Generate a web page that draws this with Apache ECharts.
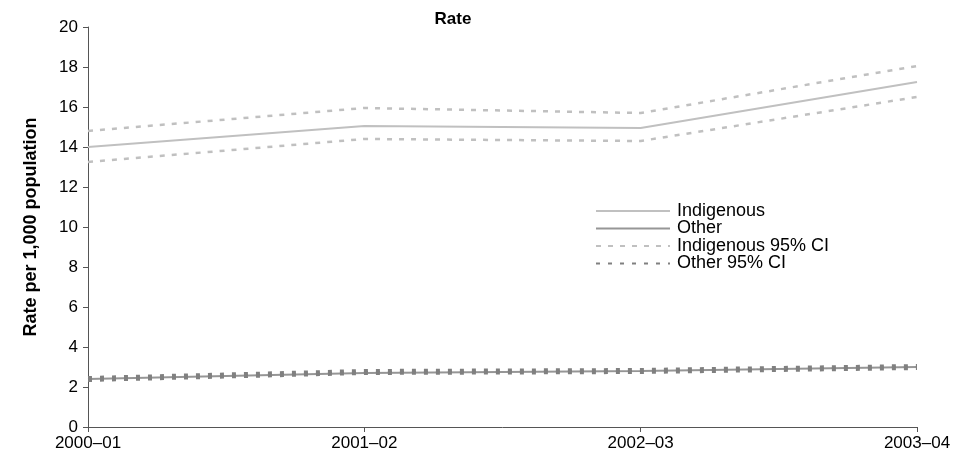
<!DOCTYPE html>
<html><head><meta charset="utf-8">
<script src="https://cdn.jsdelivr.net/npm/echarts@6/dist/echarts.min.js"></script>
<style>html,body{margin:0;padding:0;background:#fff}#c{width:968px;height:474px}</style>
</head><body><div id="c"></div>
<script>
const categories = ['2000–01', '2001–02', '2002–03', '2003–04'];
const indigenous = [14.0, 15.05, 14.95, 17.25];
const other = [2.4, 2.7, 2.8, 3.0];
const indigenousUpper = [14.8, 15.95, 15.7, 18.05];
const indigenousLower = [13.25, 14.4, 14.3, 16.5];
const otherUpper = [2.45, 2.8, 2.85, 3.05];
const otherLower = [2.35, 2.7, 2.75, 2.95];
const yTicks = [0, 2, 4, 6, 8, 10, 12, 14, 16, 18, 20];

const chart = echarts.init(document.getElementById('c'));
const font = 'Liberation Sans, Arial, sans-serif';
chart.setOption({
  animation: false,
  title: { text: 'Rate', left: 448, top: 6, textAlign: 'center',
    textStyle: { fontFamily: font, fontSize: 17, fontWeight: 'bold', color: '#000' } },
  grid: { left: 88, right: 51, top: 27, bottom: 47 },
  legend: {
    orient: 'vertical', left: 595, top: 202, padding: 0, itemWidth: 74, itemHeight: 12, itemGap: -0.5,
    itemStyle: { opacity: 0 },
    textStyle: { fontFamily: font, fontSize: 18, color: '#000', padding: [0, 0, 0, 2] },
    data: ['Indigenous', 'Other', 'Indigenous 95% CI', 'Other 95% CI']
  },
  xAxis: {
    type: 'category', data: categories, boundaryGap: false,
    axisLine: { lineStyle: { color: '#555', width: 1 } },
    axisTick: { show: true, alignWithLabel: true, length: 5, lineStyle: { color: '#555' } },
    axisLabel: { fontFamily: font, fontSize: 17, color: '#000', margin: 8 },
    splitLine: { show: false }
  },
  yAxis: {
    type: 'value', min: yTicks[0], max: yTicks[yTicks.length - 1], interval: 2,
    name: 'Rate per 1,000 population', nameLocation: 'middle', nameGap: 48, nameRotate: 90,
    nameTextStyle: { fontFamily: font, fontSize: 18, fontWeight: 'bold', color: '#000' },
    axisLine: { show: true, lineStyle: { color: '#555', width: 1 } },
    axisTick: { show: true, length: 5, lineStyle: { color: '#555' } },
    axisLabel: { fontFamily: font, fontSize: 17, color: '#000', margin: 10 },
    splitLine: { show: false }
  },
  series: [
    { name: 'Indigenous', type: 'line', data: indigenous, symbol: 'none',
      lineStyle: { color: '#c0c0c0', width: 2 }, itemStyle: { color: '#c0c0c0' } },
    { name: 'Other', type: 'line', data: other, symbol: 'none',
      lineStyle: { color: '#969696', width: 2 }, itemStyle: { color: '#969696' } },
    { name: 'Indigenous 95% CI', type: 'line', data: indigenousUpper, symbol: 'none',
      lineStyle: { color: '#c0c0c0', width: 2.5, type: [5, 7] }, itemStyle: { color: '#c0c0c0' } },
    { name: 'Indigenous 95% CI', type: 'line', data: indigenousLower, symbol: 'none',
      lineStyle: { color: '#c0c0c0', width: 2.5, type: [5, 7] }, itemStyle: { color: '#c0c0c0' } },
    { name: 'Other 95% CI', type: 'line', data: otherUpper, symbol: 'none',
      lineStyle: { color: '#808080', width: 4, type: [4, 8] }, itemStyle: { color: '#808080' } },
    { name: 'Other 95% CI', type: 'line', data: otherLower, symbol: 'none',
      lineStyle: { color: '#808080', width: 4, type: [4, 8] }, itemStyle: { color: '#808080' } }
  ]
});
</script></body></html>
